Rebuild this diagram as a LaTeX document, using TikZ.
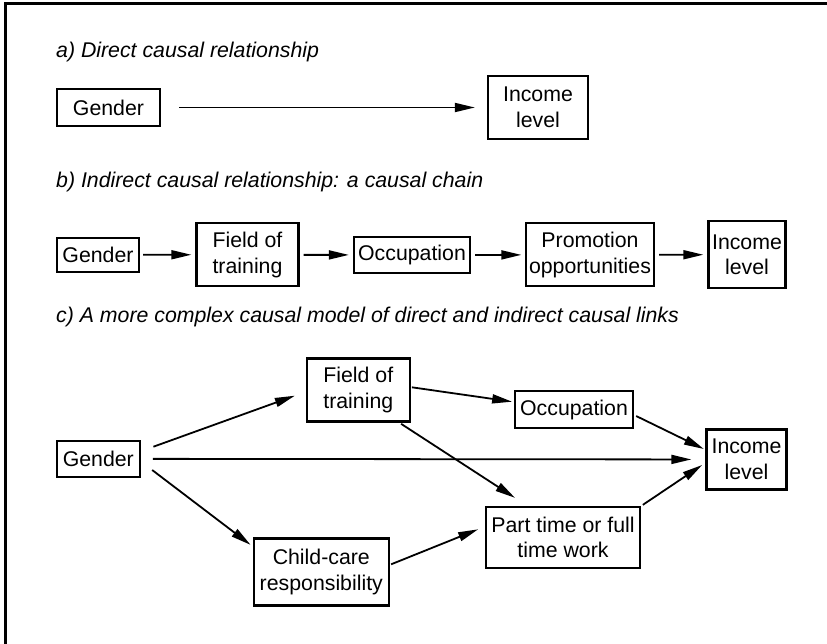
\documentclass[tikz,border=0pt]{standalone}
\usepackage{fontspec}
\setmainfont{Liberation Sans}
\usetikzlibrary{arrows.meta,calc}
\begin{document}
\begin{tikzpicture}[x=1pt,y=-1pt,
 box/.style={draw, line width=2.3pt, inner sep=0pt, align=center, font=\fontsize{21.3}{25.6}\selectfont},
 arr/.style={line width=1.8pt, -{Triangle[length=20pt,width=9pt]}},
 head/.style={anchor=base west, inner sep=0pt, font=\fontsize{21.3}{25.6}\selectfont\itshape}]
\useasboundingbox (0,0) rectangle (827,644);
% frame (top and left only)
\draw[line width=3pt, line join=miter] (5,646) -- (5,3.3) -- (829,3.3);

% headings
\node[head] (ha) at (56,58) {a) Direct causal relationship};
\node[head] (hb) at (56,188) {b) Indirect causal relationship: a causal chain};
\node[head] (hc) at (56,323) {c) A more complex causal model of direct and indirect causal links};

% part a
\node[box, minimum width=103pt, minimum height=37pt] (ga) at (108.5,107.5) {Gender};
\node[box, minimum width=100pt, minimum height=63pt] (ia) at (538,107.5) {Income\\level};
\draw[arr, shorten <=18pt, shorten >=12pt] (ga) -- (ia);

% part b
\node[box, minimum width=82pt, minimum height=34pt] (gb) at (98,254.7) {Gender};
\node[box, minimum width=102pt, minimum height=63pt] (fb) at (247.5,254.8) {Field of\\training};
\node[box, minimum width=116pt, minimum height=36pt] (ob) at (412,255) {Occupation};
\node[box, minimum width=128pt, minimum height=63pt] (pb) at (590,254.8) {Promotion\\opportunities};
\node[box, minimum width=77pt, minimum height=67pt] (ib) at (747,254.7) {Income\\level};
\draw[arr, shorten <=3pt, shorten >=4pt] (gb) -- (fb);
\draw[arr, shorten <=4pt, shorten >=4pt] (fb) -- (ob);
\draw[arr, shorten <=4pt, shorten >=3.5pt] (ob) -- (pb);
\draw[arr, shorten <=4pt, shorten >=4pt] (pb) -- (ib);

% part c
\node[box, minimum width=83pt, minimum height=36pt] (gc) at (98.3,458.8) {Gender};
\node[box, minimum width=103pt, minimum height=63pt] (fc) at (358.3,390) {Field of\\training};
\node[box, minimum width=118pt, minimum height=37pt] (oc) at (574,409.5) {Occupation};
\node[box, minimum width=80pt, minimum height=60pt] (ic) at (746.5,459.5) {Income\\level};
\node[box, minimum width=154pt, minimum height=61pt] (pc) at (563,537.3) {Part time or full\\time work};
\node[box, minimum width=135pt, minimum height=67pt] (cc) at (321.3,572) {Child-care\\responsibility};

\draw[arr] ($(gc.east)+(12.5,-12.1)$) -- ($(fc.west)+(-10.8,5.7)$);
\draw[arr, shorten <=12pt, shorten >=14pt] (gc) -- (ic);
\draw[arr] ($(gc.east)+(11.2,11.2)$) -- ($(cc.north west)+(-2.1,7.5)$);
\draw[arr] ($(fc.east)+(0.9,-2.7)$) -- ($(oc.west)+(-1.7,-7.8)$);
\draw[arr] ($(fc.south east)+(-9.8,1.2)$) -- ($(pc.north)+(-48,-7.8)$);
\draw[arr] ($(oc.east)+(2,6.5)$) -- ($(ic.west)+(-1.5,-10.5)$);
\draw[arr] ($(cc.east)+(1.2,-7.7)$) -- ($(pc.west)+(-6.7,-8)$);
\draw[arr] ($(pc.north east)+(1.7,-0.8)$) -- ($(ic.west)+(-3.2,5.5)$);
\end{tikzpicture}
\end{document}
